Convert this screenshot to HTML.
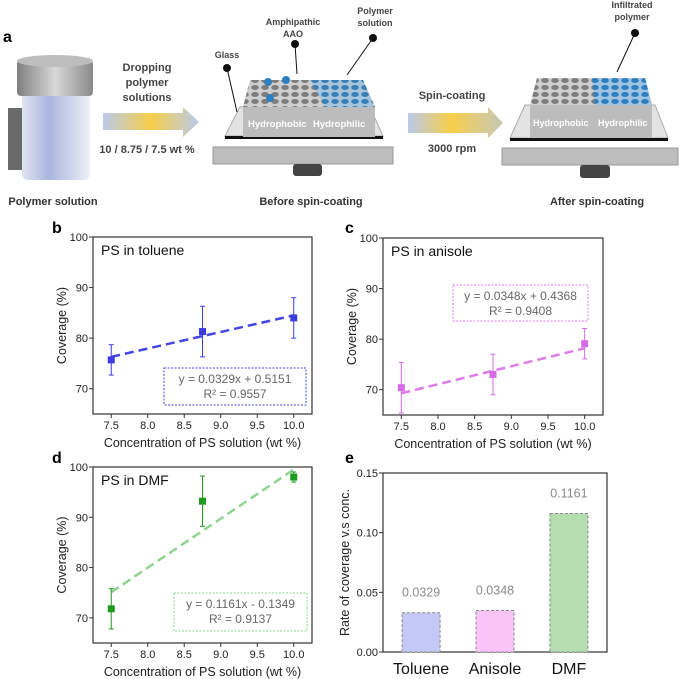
<!DOCTYPE html>
<html><head><meta charset="utf-8">
<style>
html,body{margin:0;padding:0;background:#fff;}
svg{display:block;font-family:"Liberation Sans",Arial,sans-serif;}
</style></head>
<body>
<svg id="fig" width="680" height="679" viewBox="0 0 680 679" xmlns="http://www.w3.org/2000/svg">
<defs>
<linearGradient id="arr1" x1="0" x2="1" y1="0" y2="0">
<stop offset="0" stop-color="#b9c9ea"/><stop offset="0.5" stop-color="#f7cf4a"/><stop offset="1" stop-color="#b9c9ea"/></linearGradient>
<linearGradient id="arr2" x1="0" x2="1" y1="0" y2="0">
<stop offset="0" stop-color="#b9c9ea"/><stop offset="0.45" stop-color="#f7cf4a"/><stop offset="1" stop-color="#c7c7b8"/></linearGradient>
<linearGradient id="cap" x1="0" x2="1"><stop offset="0" stop-color="#7f7f7f"/><stop offset="0.5" stop-color="#d8d8d8"/><stop offset="1" stop-color="#8a8a8a"/></linearGradient>
<linearGradient id="body" x1="0" x2="1"><stop offset="0" stop-color="#dfe4f0"/><stop offset="0.4" stop-color="#a9b6dd"/><stop offset="1" stop-color="#eef0f7"/></linearGradient>
<pattern id="holes" width="10" height="7" patternUnits="userSpaceOnUse"><rect width="10" height="7" fill="#cfcfcf"/><ellipse cx="5" cy="3.5" rx="3.8" ry="2.5" fill="#7d7d7d"/></pattern>
<pattern id="holesB" width="10" height="7" patternUnits="userSpaceOnUse"><rect width="10" height="7" fill="#9fc3e0"/><ellipse cx="5" cy="3.5" rx="3.8" ry="2.5" fill="#2d7fc0"/></pattern>
</defs>

<!-- Panel a -->
<g>
<text x="3" y="42" font-size="16" font-weight="bold">a</text>
<g>
<rect x="8" y="108" width="18" height="62" fill="#6a6a6a"/>
<rect x="22" y="92" width="68" height="88" rx="6" fill="url(#body)"/>
<rect x="17" y="60" width="76" height="36" rx="4" fill="url(#cap)"/>
<ellipse cx="55" cy="61" rx="38" ry="6" fill="#bdbdbd"/>
</g>
<text x="53" y="205" font-size="11" font-weight="bold" fill="#333" text-anchor="middle">Polymer solution</text>
<g>
<polygon points="103,113 183,113 183,107 199,122 183,137 183,130 103,130" fill="url(#arr1)"/>
</g>
<text font-size="11" font-weight="bold" fill="#444" text-anchor="middle">
<tspan x="147" y="71">Dropping</tspan><tspan x="147" y="86">polymer</tspan><tspan x="147" y="101">solutions</tspan></text>
<text x="147" y="153" font-size="11" font-weight="bold" fill="#444" text-anchor="middle">10 / 8.75 / 7.5 wt %</text>

<g>
<rect x="213" y="147" width="180" height="17" fill="#bdbdbd" stroke="#999"/>
<rect x="293" y="164" width="29" height="12" rx="3" fill="#444"/>
<polygon points="240,107 370,107 383,136 225,136" fill="#e3e3e3" stroke="#aaa"/>
<rect x="225" y="136" width="158" height="3" fill="#111"/>
<polygon points="250,80 363,80 375,107 243,107" fill="url(#holes)"/>
<polygon points="310,80 363,80 375,107 325,107" fill="url(#holesB)" opacity="0.85"/>
<rect x="243" y="107" width="132" height="30" fill="#bcbcbc"/>
<circle cx="268" cy="82" r="4" fill="#2d7fc0"/><circle cx="270" cy="98" r="4" fill="#2d7fc0"/><circle cx="286" cy="80" r="4" fill="#2d7fc0"/>
<text x="248" y="127" font-size="9.5" font-weight="bold" fill="#fff">Hydrophobic</text>
<text x="313" y="127" font-size="9.5" font-weight="bold" fill="#fff">Hydrophilic</text>
<circle cx="227" cy="68" r="4" fill="#111"/><line x1="227" y1="68" x2="237" y2="112" stroke="#111"/>
<circle cx="295" cy="44" r="4" fill="#111"/><line x1="295" y1="44" x2="297" y2="74" stroke="#111"/>
<circle cx="373" cy="38" r="4" fill="#111"/><line x1="373" y1="38" x2="347" y2="75" stroke="#111"/>
</g>
<text x="227" y="58" font-size="9" font-weight="bold" fill="#444" text-anchor="middle">Glass</text>
<text font-size="9" font-weight="bold" fill="#444" text-anchor="middle"><tspan x="293" y="25">Amphipathic</tspan><tspan x="293" y="37">AAO</tspan></text>
<text font-size="9" font-weight="bold" fill="#444" text-anchor="middle"><tspan x="375" y="14">Polymer</tspan><tspan x="375" y="26">solution</tspan></text>
<text x="311" y="205" font-size="11" font-weight="bold" fill="#333" text-anchor="middle">Before spin-coating</text>

<g>
<polygon points="408,113 488,113 488,107 503,123 488,138 488,133 408,133" fill="url(#arr2)"/>
</g>
<text x="452" y="99" font-size="11" font-weight="bold" fill="#444" text-anchor="middle">Spin-coating</text>
<text x="452" y="152" font-size="11" font-weight="bold" fill="#444" text-anchor="middle">3000 rpm</text>

<g>
<rect x="502" y="148" width="176" height="17" fill="#bdbdbd" stroke="#999"/>
<rect x="580" y="165" width="30" height="13" rx="3" fill="#444"/>
<polygon points="525,105 655,105 668,138 510,138" fill="#e3e3e3" stroke="#aaa"/>
<rect x="510" y="138" width="158" height="3" fill="#111"/>
<polygon points="537,78 645,78 652,105 530,105" fill="url(#holes)"/>
<polygon points="592,78 645,78 652,105 595,105" fill="url(#holesB)"/>
<rect x="530" y="105" width="122" height="33" fill="#bcbcbc"/>
<text x="533" y="126" font-size="9" font-weight="bold" fill="#fff">Hydrophobic</text>
<text x="598" y="126" font-size="9" font-weight="bold" fill="#fff">Hydrophilic</text>
<circle cx="635" cy="33" r="4" fill="#111"/><line x1="635" y1="33" x2="617" y2="72" stroke="#111"/>
</g>
<text font-size="9" font-weight="bold" fill="#444" text-anchor="middle"><tspan x="632" y="8">Infiltrated</tspan><tspan x="632" y="20">polymer</tspan></text>
<text x="597" y="205" font-size="11" font-weight="bold" fill="#333" text-anchor="middle">After spin-coating</text>
</g>

<text x="52" y="233" font-size="16" font-weight="bold">b</text>
<text x="345" y="233" font-size="16" font-weight="bold">c</text>
<text x="52" y="463" font-size="16" font-weight="bold">d</text>
<text x="345" y="463" font-size="16" font-weight="bold">e</text>
<g id="charts"></g>
</svg>
<script>
const xCats = [7.5, 8.75, 10.0];
const xTicks = [7.5, 8.0, 8.5, 9.0, 9.5, 10.0];
const yTicks = [70, 80, 90, 100];
const tolueneVals = [75.7, 81.3, 84.0];
const tolueneErr = [3.0, 5.0, 4.0];
const tolueneFit = [76.3, 84.5];
const anisoleVals = [70.4, 73.0, 79.1];
const anisoleErr = [5.0, 4.0, 3.0];
const anisoleFit = [69.3, 78.2];
const dmfVals = [71.8, 93.2, 98.0];
const dmfErr = [4.0, 5.0, 1.0];
const dmfFit = [75.1, 99.5];
const barCats = ["Toluene", "Anisole", "DMF"];
const barVals = [0.0329, 0.0348, 0.1161];
const barLabels = ["0.0329", "0.0348", "0.1161"];
const barTicks = [0, 0.05, 0.10, 0.15];
const barTickLabels = ["0.00", "0.05", "0.10", "0.15"];

const NS = "http://www.w3.org/2000/svg";
const root = document.getElementById('charts');
function mk(tag, attrs, parent, text) {
  const e = document.createElementNS(NS, tag);
  for (const k in attrs) e.setAttribute(k, attrs[k]);
  if (text !== undefined) e.textContent = text;
  (parent || root).appendChild(e);
  return e;
}

function linePanel(cfg) {
  const g = mk('g', {});
  
  
  const L = cfg.L, R = cfg.R, T = cfg.T, B = cfg.B;
  const xs = v => L + (v - 7.25) / 3.0 * (R - L);
  const ys = v => B - (v - 65) / 35 * (B - T);
  const frame = mk('rect', {x: L, y: T, width: R - L, height: B - T, fill: 'none', stroke: '#333', 'stroke-width': 1.2}, g);
  
  
  xTicks.forEach(t => {
    mk('line', {x1: xs(t), x2: xs(t), y1: B, y2: B + 4, stroke: '#333'}, g);
    const tl = mk('text', {x: xs(t), y: B + 15, 'font-size': 11, 'text-anchor': 'middle', fill: '#222'}, g, t.toFixed(1));
    
    
  });
  yTicks.forEach(t => {
    mk('line', {x1: L - 4, x2: L, y1: ys(t), y2: ys(t), stroke: '#333'}, g);
    const tl = mk('text', {x: L - 5, y: ys(t) + 4, 'font-size': 11, 'text-anchor': 'end', fill: '#222'}, g, String(t));
    
    
  });
  const xt = mk('text', {x: (L + R) / 2, y: B + 33, 'font-size': 12.5, 'text-anchor': 'middle', fill: '#222'}, g, 'Concentration of PS solution (wt %)');
  
  
  const cy = (T + B) / 2;
  const yt = mk('text', {x: L - 27, y: cy, 'font-size': 12.5, 'text-anchor': 'middle', fill: '#222', transform: `rotate(-90 ${L - 27} ${cy})`}, g, 'Coverage (%)');
  
  
  const ti = mk('text', {x: L + 8, y: T + 18, 'font-size': 14, fill: '#111'}, g, cfg.title);
  
  
  const fit = mk('line', {x1: xs(xCats[0]), y1: ys(cfg.fit[0]), x2: xs(xCats[2]), y2: ys(cfg.fit[1]), stroke: cfg.fitColor, 'stroke-width': 2.5, 'stroke-dasharray': '9,5'}, g);
  
  
  xCats.forEach((c, i) => {
    const x = xs(c), v = cfg.vals[i], e = cfg.err[i];
    mk('line', {x1: x, x2: x, y1: ys(v - e), y2: ys(v + e), stroke: cfg.color, 'stroke-width': 1}, g);
    mk('line', {x1: x - 2.5, x2: x + 2.5, y1: ys(v - e), y2: ys(v - e), stroke: cfg.color}, g);
    mk('line', {x1: x - 2.5, x2: x + 2.5, y1: ys(v + e), y2: ys(v + e), stroke: cfg.color}, g);
    const p = mk('rect', {x: x - 3.5, y: ys(v) - 3.5, width: 7, height: 7, fill: cfg.color}, g);
    
    
  });
  const bx = cfg.box;
  const bb = mk('rect', {x: bx[0], y: bx[1], width: bx[2], height: bx[3], fill: '#fff', stroke: cfg.fitColor, 'stroke-dasharray': '2,1.5'}, g);
  
  
  const eq = mk('text', {x: bx[0] + bx[2] / 2, y: bx[1] + 15, 'font-size': 12, 'text-anchor': 'middle', fill: '#666'}, g, cfg.eq);
  
  
  const r2 = mk('text', {x: bx[0] + bx[2] / 2, y: bx[1] + 30, 'font-size': 12, 'text-anchor': 'middle', fill: '#666'}, g, cfg.r2);
  
  
}

linePanel({name: 'chart-toluene', L: 93, R: 312, T: 237, B: 414, title: 'PS in toluene', vals: tolueneVals, err: tolueneErr, fit: tolueneFit, color: '#3c3ce0', fitColor: '#4646e6', box: [164, 368, 142, 37], eq: 'y = 0.0329x + 0.5151', r2: 'R\u00b2 = 0.9557'});
linePanel({name: 'chart-anisole', L: 383, R: 603, T: 238, B: 415, title: 'PS in anisole', vals: anisoleVals, err: anisoleErr, fit: anisoleFit, color: '#d36ce6', fitColor: '#e07cea', box: [453, 285, 135, 36], eq: 'y = 0.0348x + 0.4368', r2: 'R\u00b2 = 0.9408'});
linePanel({name: 'chart-dmf', L: 93, R: 312, T: 467, B: 643, title: 'PS in DMF', vals: dmfVals, err: dmfErr, fit: dmfFit, color: '#1e9a1e', fitColor: '#8fd48f', box: [174, 593, 133, 38], eq: 'y = 0.1161x - 0.1349', r2: 'R\u00b2 = 0.9137'});

(function () {
  const g = mk('g', {});
  
  
  const L = 383, R = 607, T = 473, B = 652;
  const ys = v => B - v / 0.15 * (B - T);
  const xs = i => L + (i * 0.33 + 0.17) * (R - L);
  const colors = ['#c4c8f6', '#f9c4f7', '#b5deb0'];
  mk('rect', {x: L, y: T, width: R - L, height: B - T, fill: 'none', stroke: '#333', 'stroke-width': 1.2}, g);
  barTicks.forEach((t, i) => {
    mk('line', {x1: L - 4, x2: L, y1: ys(t), y2: ys(t), stroke: '#333'}, g);
    const tl = mk('text', {x: L - 5, y: ys(t) + 4, 'font-size': 11, 'text-anchor': 'end', fill: '#222'}, g, barTickLabels[i]);
    
    
  });
  const cy = (T + B) / 2;
  const yt = mk('text', {x: L - 34, y: cy, 'font-size': 12.5, 'text-anchor': 'middle', fill: '#222', transform: `rotate(-90 ${L - 34} ${cy})`}, g, 'Rate of coverage v.s conc.');
  
  
  barCats.forEach((c, i) => {
    const cx = xs(i), w = 38, v = barVals[i];
    const b = mk('rect', {x: cx - w / 2, y: ys(v), width: w, height: B - ys(v), fill: colors[i], stroke: '#888', 'stroke-dasharray': '3,2'}, g);
    
    
    const vl = mk('text', {x: cx, y: ys(v) - 16, 'font-size': 12.5, 'text-anchor': 'middle', fill: '#8a8a8a'}, g, barLabels[i]);
    
    
    const xl = mk('text', {x: cx, y: B + 22, 'font-size': 16, 'text-anchor': 'middle', fill: '#111'}, g, c);
    
    
  });
})();
</script>
</body></html>
